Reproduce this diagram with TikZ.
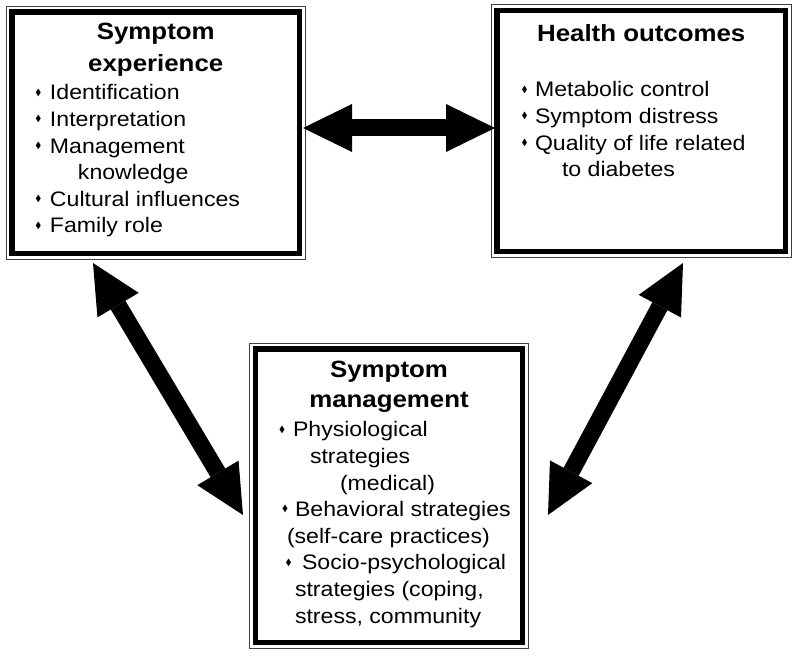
\documentclass[tikz,border=0pt]{standalone}
\usepackage{amssymb}
\usepackage{fontspec}
\setmainfont{Liberation Sans}[FakeStretch=1.1]
\usepackage{tikz}
\usetikzlibrary{positioning, fit, arrows.meta}

\newcommand{\dia}{\raisebox{4.8pt}{\fontsize{9}{9}\selectfont$\blacklozenge$}}
\newcommand{\bul}[3]{\makebox[#2][l]{\hspace*{#1}\dia}\mbox{#3}}
\newcommand{\indline}[2]{\hspace*{#1}\mbox{#2}}
\newcommand{\ttl}{\fontsize{23.5}{31}\selectfont\bfseries}
\newcommand{\bdy}{\fontsize{21}{26.6}\selectfont}

\begin{document}
\begin{tikzpicture}[
      x=1pt, y=1pt,
      boxnode/.style={draw, line width=5.5pt, inner sep=0pt},
      rimnode/.style={draw=black!75, line width=0.8pt, inner sep=3pt,
          outer sep=0pt},
      blockarr/.style={<->, >={Triangle[width=48pt, length=49pt,
          line width=0pt]}, line width=17pt},
    ]
    \useasboundingbox[fill=white] (0,0) rectangle (800,656);

    %% ── SYMPTOM EXPERIENCE ───────────────────────────────────────────
    \node[boxnode] at (155.75, 523.25) (exper)
    {\parbox[c][241.5pt][t]{287.5pt}{%
      \vspace*{11.4pt}%
      {\centering\ttl Symptom\\[1pt]experience\par}%
      \vspace{1.4pt}%
      {\bdy
      \bul{23.5pt}{38pt}{Identification}\\
      \bul{23.5pt}{38pt}{Interpretation}\\
      \bul{23.5pt}{38pt}{Management}\\
      \indline{66pt}{knowledge}\\
      \bul{23.5pt}{38pt}{Cultural influences}\\
      \bul{23.5pt}{38pt}{Family role}\par}}};
    \node[rimnode, fit=(exper)] (exper-out) {};

    %% ── HEALTH OUTCOMES ──────────────────────────────────────────────
    \node[boxnode] at (641.25, 525) (health)
    {\parbox[c][241pt][t]{288.5pt}{%
      \vspace*{14.4pt}%
      {\centering\ttl Health outcomes\par}%
      \vspace{28.4pt}%
      {\bdy
      \bul{24.5pt}{38pt}{Metabolic control}\\
      \bul{24.5pt}{38pt}{Symptom distress}\\
      \bul{24.5pt}{38pt}{Quality of life related}\\
      \indline{65pt}{to diabetes}\par}}};
    \node[rimnode, fit=(health)] (health-out) {};

    %% ── SYMPTOM MANAGEMENT ───────────────────────────────────────────
    \node[boxnode] at (389, 160.25) (manag)
    {\parbox[c][293.5pt][t]{267pt}{%
      \vspace*{12.5pt}%
      {\centering\ttl Symptom\\[-1pt]management\par}%
      \vspace{2.4pt}%
      {\bdy
      \bul{23.5pt}{37.5pt}{Physiological}\\
      \indline{54.5pt}{strategies}\\
      \indline{84.5pt}{(medical)}\\
      \bul{26.5pt}{39.5pt}{Behavioral strategies}\\
      \indline{31.5pt}{(self-care practices)}\\
      \bul{30pt}{46.5pt}{Socio-psychological}\\
      \indline{39.5pt}{strategies (coping,}\\
      \indline{39.5pt}{stress, community}\par}}};
    \node[rimnode, fit=(manag)] (manag-out) {};

    %% ── ARROWS ───────────────────────────────────────────────────────
    \draw[blockarr] ([shift={(-2.25pt,4.75pt)}]exper-out.east)
      -- ([shift={(3.75pt,3pt)}]health-out.west);
    \draw[blockarr] ([shift={(86.75pt,-3.75pt)}]exper-out.south west)
      -- ([shift={(-6.75pt,-19.25pt)}]manag-out.west);
    \draw[blockarr] ([shift={(41.75pt,-5.75pt)}]health-out.south)
      -- ([shift={(19.75pt,-19.25pt)}]manag-out.east);

  \end{tikzpicture}
\end{document}
